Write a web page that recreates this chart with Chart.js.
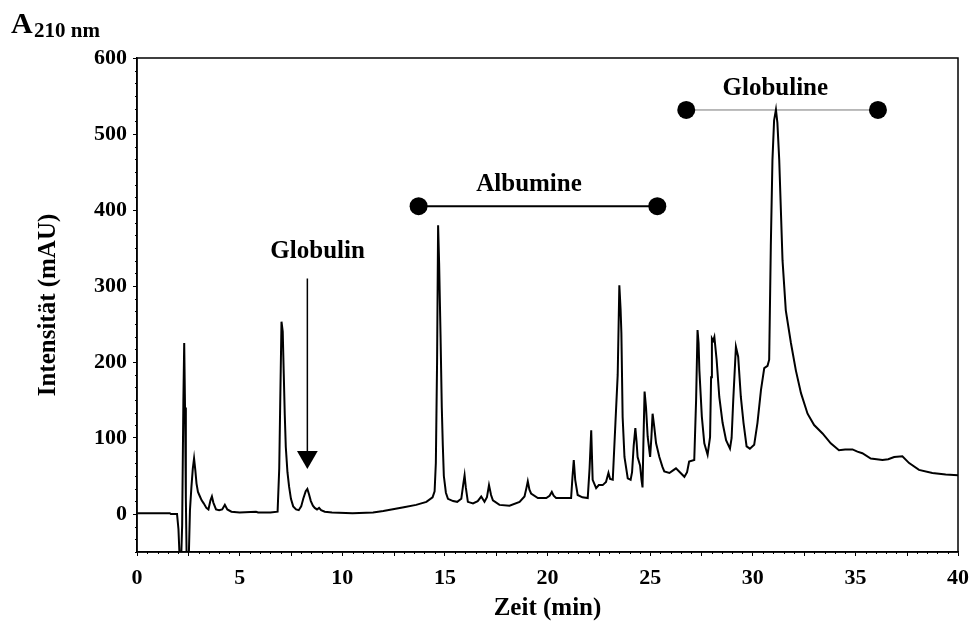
<!DOCTYPE html>
<html lang="de">
<head>
    <meta charset="UTF-8">
    <title>Chromatogramm A210 nm</title>
    <script src="https://cdn.jsdelivr.net/npm/chart.js"></script>
    <style>
        html, body { margin: 0; padding: 0; background: #fff; }
        #wrap { width: 978px; height: 630px; }
    </style>
</head>
<body>
    <div id="wrap"><canvas id="chart" width="978" height="630"></canvas></div>

    <script>
        const zeit = [
            0, 1.6, 1.65, 1.95, 2.02, 2.08, 2.15, 2.2, 2.26, 2.3, 2.34, 2.38, 2.42, 2.52, 2.58, 2.65, 2.72, 2.78, 2.84, 2.9,
            2.97, 3.05, 3.15, 3.25, 3.38, 3.48, 3.58, 3.65, 3.72, 3.85, 4.0, 4.15, 4.28, 4.4, 4.6, 5.0, 5.8, 5.9, 6.5, 6.85,
            6.93, 6.98, 7.04, 7.1, 7.15, 7.2, 7.25, 7.33, 7.41, 7.5, 7.61, 7.75, 7.88, 8.0, 8.1, 8.22, 8.3, 8.38, 8.47, 8.57,
            8.66, 8.77, 8.87, 8.97, 9.15, 9.5, 10.5, 11.5, 12.0, 12.6, 13.0, 13.6, 14.1, 14.4, 14.5, 14.56, 14.62, 14.67, 14.72, 14.79,
            14.85, 14.9, 14.95, 15.05, 15.15, 15.4, 15.6, 15.8, 15.9, 15.96, 16.02, 16.12, 16.37, 16.6, 16.77, 16.93, 17.05, 17.15, 17.25, 17.34,
            17.66, 18.15, 18.64, 18.88, 18.98, 19.04, 19.12, 19.2, 19.53, 19.94, 20.1, 20.21, 20.3, 20.42, 21.15, 21.22, 21.28, 21.35, 21.47, 21.7,
            21.96, 22.05, 22.13, 22.2, 22.37, 22.5, 22.69, 22.85, 22.97, 23.05, 23.18, 23.31, 23.42, 23.5, 23.56, 23.6, 23.66, 23.75, 23.91, 24.05,
            24.12, 24.2, 24.28, 24.34, 24.39, 24.51, 24.58, 24.63, 24.67, 24.73, 24.8, 24.88, 25.0, 25.06, 25.12, 25.2, 25.29, 25.45, 25.6, 25.69,
            25.94, 26.1, 26.26, 26.45, 26.67, 26.8, 26.9, 27.15, 27.24, 27.31, 27.36, 27.4, 27.52, 27.64, 27.8, 27.92, 27.97, 28.01, 28.07, 28.13,
            28.24, 28.37, 28.53, 28.7, 28.89, 28.97, 29.05, 29.18, 29.29, 29.42, 29.55, 29.7, 29.86, 30.07, 30.23, 30.4, 30.56, 30.72, 30.8, 30.88,
            30.96, 31.04, 31.13, 31.2, 31.29, 31.37, 31.45, 31.61, 31.86, 32.1, 32.35, 32.67, 32.99, 33.4, 33.8, 34.2, 34.5, 34.86, 35.1, 35.34,
            35.75, 36.32, 36.6, 36.89, 37.29, 37.62, 38.1, 38.75, 39.4, 40
        ];
        const intensitaet = [
            1, 1, 0, 0, -20, -60, -60, -15, 150, 225, 140, 20, -60, -60, 5, 35, 60, 73, 58, 40,
            29, 24, 18, 14, 8, 6, 18, 23, 15, 6, 5, 6, 12, 6, 3, 2, 3, 2, 2, 3,
            60, 150, 253, 240, 185, 130, 88, 55, 36, 20, 10, 6, 5, 10, 20, 30, 33, 26, 17, 11,
            8, 6, 8, 5, 3, 2, 1, 2, 4, 7, 9, 12, 16, 22, 30, 67, 200, 380, 330, 233,
            140, 90, 50, 28, 20, 17, 16, 20, 40, 51, 35, 16, 14, 17, 23, 16, 22, 38, 25, 18,
            12, 11, 16, 23, 35, 43, 32, 27, 21, 21, 24, 29, 24, 21, 21, 50, 71, 45, 25, 22,
            21, 60, 110, 45, 34, 38, 38, 42, 54, 46, 45, 120, 183, 301, 270, 238, 128, 75, 47, 45,
            55, 90, 113, 95, 75, 64, 45, 35, 90, 161, 140, 102, 75, 100, 132, 115, 93, 75, 62, 56,
            54, 57, 60, 55, 49, 55, 69, 71, 150, 242, 225, 189, 128, 93, 78, 101, 180, 231, 228, 233,
            203, 154, 120, 97, 86, 100, 150, 220, 207, 154, 120, 89, 86, 91, 120, 163, 192, 195, 203, 352,
            466, 518, 532, 515, 466, 400, 334, 268, 225, 189, 159, 132, 117, 106, 93, 84, 85, 85, 82, 80,
            73, 71, 72, 75, 76, 67, 58, 54, 52, 51
        ];

        // Markierungen (in Datenkoordinaten)
        const pfeilX = [8.3, 8.3];
        const pfeilY = [310, 75];
        const albumineX = [13.72, 25.35];
        const albumineY = [405, 405];
        const globulineX = [26.76, 36.1];
        const globulineY = [531.6, 531.6];
        const beschriftungen = ['Globulin', 'Albumine', 'Globuline'];
        const beschriftungX = [8.8, 19.1, 31.1];
        const beschriftungY = [345, 434, 560];

        const schrift = '"Liberation Serif", "Times New Roman", serif';

        function punkte(xs, ys) {
            return xs.map((x, i) => ({ x: x, y: ys[i] }));
        }

        // Rahmen, Nebenstriche, Texte
        const extras = {
            id: 'extras',
            afterDraw(chart) {
                const ctx = chart.ctx;
                const a = chart.chartArea;
                const sx = chart.scales.x, sy = chart.scales.y;
                ctx.save();
                ctx.strokeStyle = '#000';
                ctx.lineWidth = 1.5;
                ctx.strokeRect(a.left, a.top, a.right - a.left, a.bottom - a.top);

                // Nebenstriche x
                ctx.lineWidth = 1;
                ctx.beginPath();
                for (let v = 0.5; v < 40; v += 0.5) {
                    if (Math.abs(v % 5) < 1e-6) continue;
                    const px = Math.round(sx.getPixelForValue(v)) + 0.5;
                    const len = Math.abs(v % 2.5) < 1e-6 ? 4 : 2;
                    ctx.moveTo(px, a.bottom);
                    ctx.lineTo(px, a.bottom + len);
                }
                // Nebenstriche y
                for (let k = -3; k < 36; k++) {
                    if (k % 6 === 0) continue;
                    const v = k * 100 / 6;
                    if (v < -50) continue;
                    const py = Math.round(sy.getPixelForValue(v)) + 0.5;
                    ctx.moveTo(a.left, py);
                    ctx.lineTo(a.left - 2, py);
                }
                ctx.stroke();

                // Beschriftungen
                ctx.fillStyle = '#000';
                ctx.textAlign = 'center';
                ctx.textBaseline = 'middle';
                ctx.font = 'bold 25px ' + schrift;
                beschriftungen.forEach((t, i) => {
                    ctx.fillText(t, sx.getPixelForValue(beschriftungX[i]), sy.getPixelForValue(beschriftungY[i]));
                });

                // Kopf: A210 nm
                ctx.textAlign = 'left';
                ctx.textBaseline = 'alphabetic';
                ctx.font = 'bold 30px ' + schrift;
                ctx.fillText('A', 11, 33);
                ctx.font = 'bold 21px ' + schrift;
                ctx.fillText('210 nm', 34, 37);
                ctx.restore();
            }
        };

        new Chart(document.getElementById('chart'), {
            type: 'line',
            data: {
                datasets: [
                    {
                        data: punkte(zeit, intensitaet),
                        borderColor: '#000',
                        borderWidth: 2,
                        pointRadius: 0,
                        tension: 0
                    },
                    {
                        data: punkte(pfeilX, pfeilY),
                        borderColor: '#000',
                        borderWidth: 1.5,
                        pointStyle: 'triangle',
                        rotation: 180,
                        pointRadius: [0, 12],
                        pointBackgroundColor: '#000',
                        pointBorderWidth: 0
                    },
                    {
                        data: punkte(albumineX, albumineY),
                        borderColor: '#000',
                        borderWidth: 2,
                        pointRadius: 9,
                        pointBackgroundColor: '#000',
                        pointBorderWidth: 0
                    },
                    {
                        data: punkte(globulineX, globulineY),
                        borderColor: '#777',
                        borderWidth: 1,
                        pointRadius: 9,
                        pointBackgroundColor: '#000',
                        pointBorderWidth: 0
                    }
                ]
            },
            options: {
                responsive: false,
                animation: false,
                layout: { padding: { top: 58, right: 20, left: 0, bottom: 0 } },
                plugins: {
                    legend: { display: false },
                    tooltip: { enabled: false }
                },
                scales: {
                    x: {
                        type: 'linear',
                        min: 0,
                        max: 40,
                        ticks: {
                            stepSize: 5,
                            color: '#000',
                            padding: 9,
                            maxRotation: 0,
                            font: { family: schrift, size: 22, weight: 'bold' }
                        },
                        grid: { drawOnChartArea: false, drawTicks: true, tickLength: 4, color: '#000' },
                        border: { color: '#000', width: 1.5 },
                        title: {
                            display: true,
                            text: 'Zeit (min)',
                            color: '#000',
                            font: { family: schrift, size: 25, weight: 'bold' },
                            padding: { top: 0, bottom: 6 }
                        },
                        afterFit: s => { s.height = 78; }
                    },
                    y: {
                        min: -50,
                        max: 600,
                        ticks: {
                            stepSize: 100,
                            includeBounds: false,
                            color: '#000',
                            padding: 6,
                            font: { family: schrift, size: 22, weight: 'bold' }
                        },
                        grid: { drawOnChartArea: false, drawTicks: true, tickLength: 4, color: '#000' },
                        border: { color: '#000', width: 1.5 },
                        title: {
                            display: true,
                            text: 'Intensität (mAU)',
                            color: '#000',
                            font: { family: schrift, size: 25, weight: 'bold' },
                            padding: { top: 34, bottom: 0 }
                        },
                        afterFit: s => { s.width = 137; }
                    }
                }
            },
            plugins: [extras]
        });
    </script>
</body>
</html>
